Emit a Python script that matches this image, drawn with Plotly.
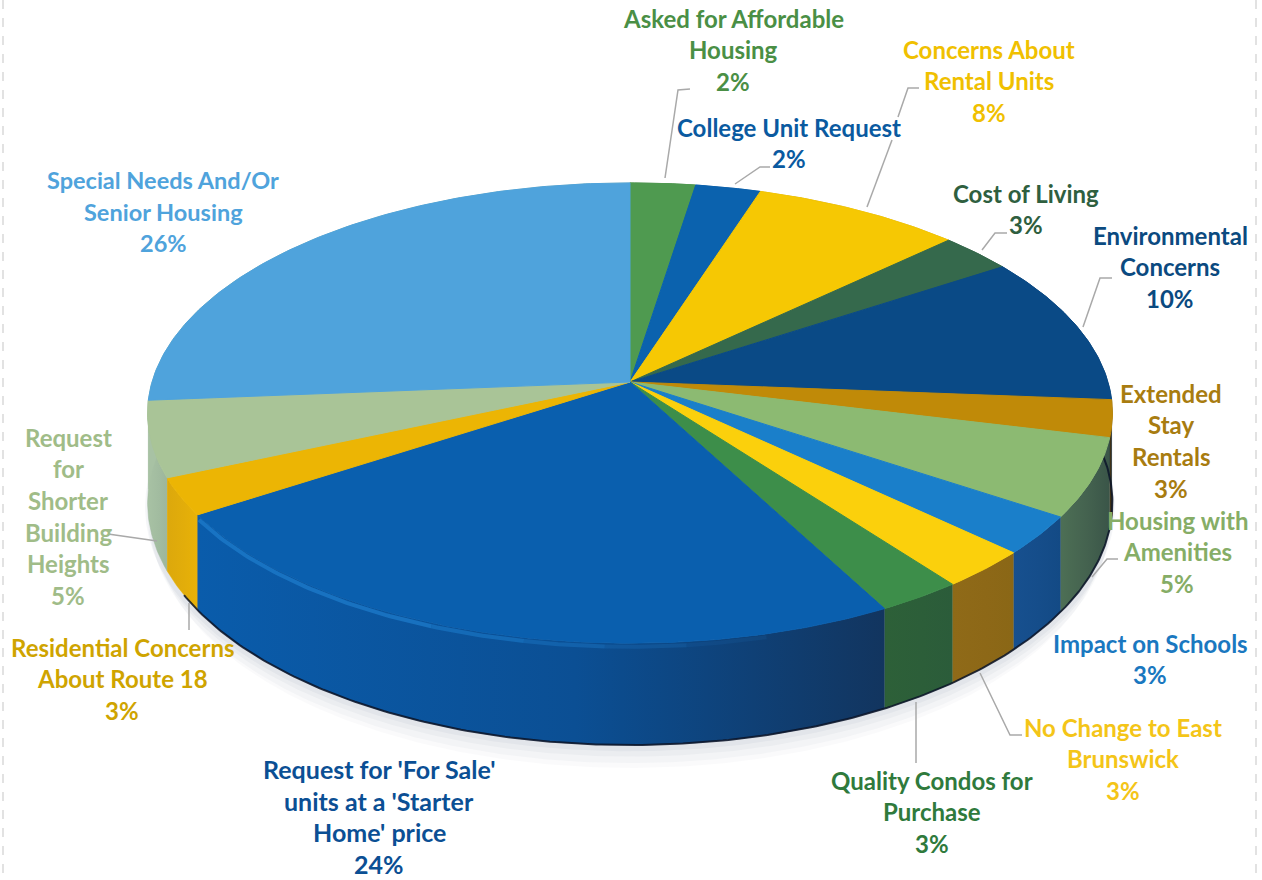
import plotly.graph_objects as go
import math

# ---- data, clockwise from 12 o'clock ----
label_lines = [
    ["Asked for Affordable", "Housing"],
    ["College Unit Request"],
    ["Concerns About", "Rental Units"],
    ["Cost of Living"],
    ["Environmental", "Concerns"],
    ["Extended", "Stay", "Rentals"],
    ["Housing with", "Amenities"],
    ["Impact on Schools"],
    ["No Change to East", "Brunswick"],
    ["Quality Condos for", "Purchase"],
    ["Request for 'For Sale'", "units at a 'Starter", "Home' price"],
    ["Residential Concerns", "About Route 18"],
    ["Request", "for", "Shorter", "Building", "Heights"],
    ["Special Needs And/Or", "Senior Housing"],
]
shares = [2.49, 2.49, 8.0, 2.8, 10.45, 2.6, 5.49, 2.7, 2.7, 2.51, 23.6, 2.6, 5.3, 26.27]

# ---- styles ----
top_colors = ["#4f9a50", "#0b62ae", "#f6c803", "#35694c", "#0a4a86", "#c08a08", "#8cba72",
              "#1a7fca", "#fbd00c", "#3d8e4a", "#0a5fae", "#ecb504", "#a9c497", "#4fa3dc"]
# side colours: (left end, middle, right end)
side_colors = [("#3c7a40", "#3c7a40", "#3c7a40"), ("#0a4f8f", "#0a4f8f", "#0a4f8f"),
               ("#b08f10", "#b08f10", "#b08f10"), ("#2b5540", "#2b5540", "#2b5540"),
               ("#0a3a6a", "#0a3a6a", "#0a3a6a"), ("#3a2f18", "#42341a", "#4a3a18"),
               ("#4d6f55", "#44624f", "#3a5548"), ("#17508f", "#154d8a", "#134a85"),
               ("#8f6a18", "#8d6817", "#8a6716"), ("#2d6038", "#2c5e39", "#2b5c3a"),
               ("#0a5cab", "#0b4f94", "#12355f"), ("#dca80c", "#e2ad0a", "#e8b208"),
               ("#a8c2a4", "#a2bca0", "#9db69c"), ("#a8c2a4", "#a8c2a4", "#a8c2a4")]
text_colors = ["#4a8f45", "#0a5aa0", "#f0c000", "#2f5f3f", "#0b4a80", "#a87c10", "#86ad66",
               "#1a78c0", "#f4c518", "#2f7a3c", "#0b4f94", "#cfa400", "#a0bc88", "#4fa3dc"]
font_sizes = [24, 24, 24, 24, 24, 24, 24, 24, 24, 24, 25, 24, 24, 23.5]

# ---- layout: label centres (x, first-line y) and leader paths ----
label_pos = [(733, 18), (789, 127), (989, 49), (1026, 193), (1170, 235), (1171, 393), (1177, 520),
             (1150, 643), (1123, 727), (932, 780), (379, 769), (122, 647), (68, 437), (163, 180)]
LINE_STEP = 31.7
leaders = [
    [(665, 178), (678, 90), (690, 89)],
    [(735, 184), (760, 167), (770, 167)],
    [(867, 207), (892, 140)],
    [(898, 117), (908, 88), (919, 88)],
    [(982, 250), (995, 233), (1007, 233)],
    [(1083, 327), (1100, 278), (1112, 278)],
    [(1092, 577), (1107, 559), (1118, 559)],
    [(980, 673), (1010, 735), (1022, 735)],
    [(916, 702), (916, 763)],
    [(157, 541), (108, 534)],
    [(189, 603), (189, 630)],
]

# ---- perspective disc model ----
CX, CY = 630, 382
R, S, K, DEPTH = 478, 226, 0.135, 88
FONT = "Lato"


def project(pct, lift=0.0, grow=1.0):
    t = math.radians(pct * 3.6)
    u, v = math.sin(t) * grow, math.cos(t) * grow
    w = 1 + K * v
    return CX + R * u / w, CY - S * v / w + lift / w


def arc(p0, p1, lift=0.0, grow=1.0):
    n = max(3, int((p1 - p0) * 6))
    pts = [project(p0 + (p1 - p0) * i / n, lift, grow) for i in range(n + 1)]
    return [p[0] for p in pts], [p[1] for p in pts]


fig = go.Figure()

# soft shadow under the disc
for lift, grow, alpha in [(DEPTH + 24, 0.985, 0.04), (DEPTH + 17, 0.995, 0.05), (DEPTH + 10, 1.0, 0.06), (DEPTH + 4, 1.005, 0.07)]:
    xs, ys = arc(25, 75, lift, grow)
    xt, yt = arc(25, 75, 0, 1.0)
    fig.add_trace(go.Scatter(x=xs + xt[::-1], y=ys + yt[::-1], mode="lines", fill="toself",
                             fillcolor=f"rgba(120,130,160,{alpha})", line=dict(width=0), hoverinfo="skip"))

# slice boundaries
edges = [0.0]
for s in shares:
    edges.append(edges[-1] + s)

# sides
for i in range(len(shares)):
    xt, yt = arc(edges[i], edges[i + 1])
    xb, yb = arc(edges[i], edges[i + 1], DEPTH)
    c_left, c_mid, c_right = side_colors[i]
    fig.add_trace(go.Scatter(x=xt + xb[::-1], y=yt + yb[::-1], mode="lines", fill="toself",
                             fillgradient=dict(type="horizontal", colorscale=[[0, c_left], [0.55, c_mid], [1, c_right]]),
                             line=dict(width=0.5, color=c_right), hoverinfo="skip"))

# dark lower edge
xb, yb = arc(edges[4] + 2, edges[11] + 1, DEPTH)
fig.add_trace(go.Scatter(x=xb, y=yb, mode="lines", line=dict(color="rgba(10,20,40,0.85)", width=2), hoverinfo="skip"))

# top faces
for i in range(len(shares)):
    xa, ya = arc(edges[i], edges[i + 1])
    fig.add_trace(go.Scatter(x=[CX] + xa + [CX], y=[CY] + ya + [CY], mode="lines", fill="toself",
                             fillcolor=top_colors[i], line=dict(width=1, color=top_colors[i]), hoverinfo="skip"))

# rim highlight on the large front slice, fading toward the right
for frac0, frac1, alpha in [(0.16, 0.26, 0.12), (0.26, 0.36, 0.25), (0.36, 0.46, 0.4), (0.46, 0.58, 0.55), (0.58, 0.995, 0.7)]:
    span = edges[11] - edges[10]
    xh, yh = arc(edges[10] + span * frac0, edges[10] + span * frac1, 3)
    fig.add_trace(go.Scatter(x=xh, y=yh, mode="lines", line=dict(color=f"rgba(30,125,205,{alpha})", width=4),
                             hoverinfo="skip"))

# leaders
for path in leaders:
    fig.add_trace(go.Scatter(x=[p[0] for p in path], y=[p[1] for p in path], mode="lines",
                             line=dict(color="#a9a9a9", width=1.5), hoverinfo="skip"))

# labels, one real text item per line for the tight line pitch
ann = []
for i, lines in enumerate(label_lines):
    lx, ly = label_pos[i]
    for j, line in enumerate(lines + [f"{round(shares[i])}%"]):
        ann.append(dict(x=lx, y=ly + j * LINE_STEP, text=line, showarrow=False, xanchor="center", yanchor="middle",
                        font=dict(family=FONT, size=font_sizes[i], color=text_colors[i], weight="bold")))

# scanned page edges
shapes = [dict(type="line", x0=x, x1=x, y0=0, y1=880, line=dict(color="#e2e2e2", width=2, dash="dash"))
          for x in (3, 1256)]

fig.update_layout(width=1262, height=880, margin=dict(l=0, r=0, t=0, b=0), showlegend=False,
                  paper_bgcolor="white", plot_bgcolor="white", annotations=ann, shapes=shapes,
                  xaxis=dict(range=[0, 1262], visible=False, fixedrange=True),
                  yaxis=dict(range=[880, 0], visible=False, fixedrange=True))
fig.write_html("out.html", config=dict(displayModeBar=False),
               post_script="document.body.style.margin='0';")
